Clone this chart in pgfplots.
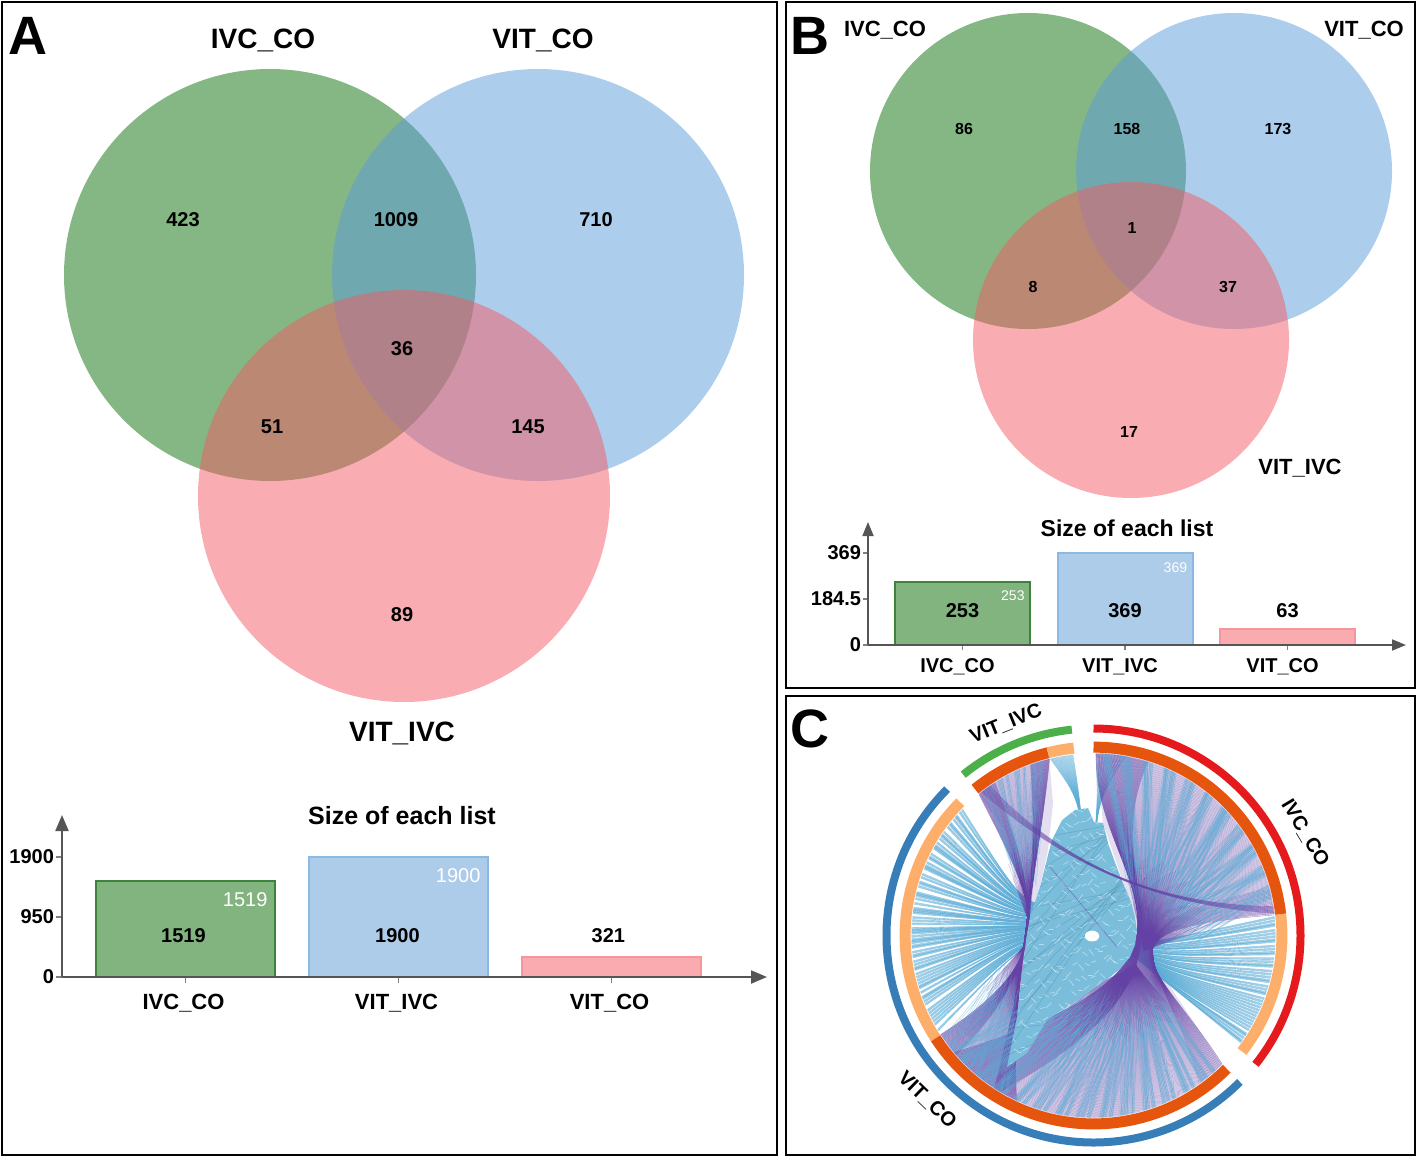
\documentclass[border=0pt]{standalone}
\usepackage{pgfplots}
\pgfplotsset{compat=1.18}
\usepackage{fontspec}
\setmainfont{Liberation Sans}
\usetikzlibrary{arrows.meta}
\definecolor{vgreen}{RGB}{9,112,10}
\definecolor{vblue}{RGB}{92,156,219}
\definecolor{vpink}{RGB}{243,90,100}
\definecolor{bgreen}{RGB}{130,180,128}
\definecolor{bblue}{RGB}{173,204,233}
\definecolor{bpink}{RGB}{249,171,176}
\definecolor{lgreen}{RGB}{62,130,62}
\definecolor{lblue}{RGB}{140,185,228}
\definecolor{lpink}{RGB}{246,150,156}
\definecolor{axg}{RGB}{85,85,85}
\definecolor{rred}{RGB}{228,26,28}
\definecolor{rblue}{RGB}{55,126,184}
\definecolor{rgreen}{RGB}{77,175,74}
\definecolor{rdark}{RGB}{230,85,13}
\definecolor{rlight}{RGB}{253,174,107}
\definecolor{cblue}{RGB}{92,172,214}
\definecolor{cpur}{RGB}{100,66,165}
\definecolor{cfill}{RGB}{122,190,220}
\definecolor{clav}{RGB}{228,223,240}
\newcommand\fs[1]{\fontsize{#1}{#1}\selectfont\bfseries}
\newcommand\fn[1]{\fontsize{#1}{#1}\selectfont}
\tikzset{blu/.style={draw=cblue,line width=.3pt,draw opacity=.6},
 wis/.style={draw=cblue,line width=.3pt,draw opacity=.42},
 pur/.style={draw=cpur,line width=.16pt,draw opacity=.42},
 pud/.style={draw=cpur,line width=.24pt,draw opacity=.5},
 pun/.style={draw=cpur,line width=.3pt,draw opacity=.28}}
\newcommand\setrim[3]{\pgfmathsetmacro#1{1093.5+182*cos(#3)}\pgfmathsetmacro#2{935.5-182*sin(#3)}}
\newcommand\mainchord[3]{%
 \pgfmathsetmacro\tA{6.5+#1*82.5}\pgfmathsetmacro\tB{-45-#2*95}%
 \setrim\aX\aY\tA\setrim\bX\bY\tB%
 \pgfmathsetmacro\cax{1080+10*#1}\pgfmathsetmacro\cay{930-50*#1}%
 \pgfmathsetmacro\cbx{1160+100*#2}\pgfmathsetmacro\cby{965-5*#2}%
 \draw[#3] (axis cs:\aX,\aY) .. controls (axis cs:\cax,\cay) and (axis cs:\cbx,\cby) .. (axis cs:\bX,\bY);}
\newcommand\leftchord[3]{%
 \pgfmathsetmacro\tA{129-#1*25}\pgfmathsetmacro\tB{-147+#2*32}%
 \setrim\aX\aY\tA\setrim\bX\bY\tB%
 \pgfmathsetmacro\cax{1035+5*#1}\pgfmathsetmacro\cay{905-45*#1}%
 \pgfmathsetmacro\cbx{1067-57*#2}\pgfmathsetmacro\cby{952+28*#2}%
 \draw[#3] (axis cs:\aX,\aY) .. controls (axis cs:\cax,\cay) and (axis cs:\cbx,\cby) .. (axis cs:\bX,\bY);}
% a streak from the rim part of the way towards a pinch
\newcommand\wisp[3]{%
 \setrim\aX\aY{#1}%
 \pgfmathsetmacro\jj{mod(abs(#1)*37.3,1)*44-22}%
 \pgfmathsetmacro\ff{.5+mod(abs(#1)*53.7,1)*.3}%
 \pgfmathsetmacro\eX{\aX+\ff*(#2+.5*\jj-\aX)}\pgfmathsetmacro\eY{\aY+\ff*(#3+\jj-\aY)}%
 \draw[wis] (axis cs:\aX,\aY) -- (axis cs:\eX,\eY);}
% a short purple stroke out of a pinch
\newcommand\pinch[3]{%
 \setrim\aX\aY{#1}%
 \pgfmathsetmacro\ff{.22+mod(abs(#1)*17.3,1)*.3}%
 \pgfmathsetmacro\eX{#2+\ff*(\aX-#2)}\pgfmathsetmacro\eY{#3+\ff*(\aY-#3)}%
 \draw[pun] (axis cs:#2,#3) -- (axis cs:\eX,\eY);}
\newcommand\ring[5]{\draw[#1,line width=#2] (axis cs:1093.5,935.5) ++(#4:#3) arc[start angle=#4,end angle=#5,radius=#3];}
\newcommand\centralpoly{(axis cs:1052,840) -- (axis cs:1062,820) -- (axis cs:1075,810) -- (axis cs:1088,808) -- (axis cs:1094,822) -- (axis cs:1103,823) -- (axis cs:1108,843) -- (axis cs:1116,865) -- (axis cs:1123,883) -- (axis cs:1131,902) -- (axis cs:1135,917) -- (axis cs:1137,930) -- (axis cs:1135,945) -- (axis cs:1130,957) -- (axis cs:1120,969) -- (axis cs:1110,977) -- (axis cs:1093,989) -- (axis cs:1077,1000) -- (axis cs:1047,1020) -- (axis cs:1027,1053) -- (axis cs:1007,1067) -- (axis cs:1012,1042) -- (axis cs:1017,1017) -- (axis cs:1023,967) -- (axis cs:1026,940) -- (axis cs:1030,917) -- (axis cs:1040,887) -- (axis cs:1048,855) -- cycle}
\pgfplotsset{full/.style={at={(0,0)},anchor=south west,scale only axis,width=709pt,height=579pt,
 xmin=0,xmax=1418,ymin=0,ymax=1158,y dir=reverse,hide axis,clip=false}}
\begin{document}
\begin{tikzpicture}
% Venn discs
\begin{axis}[full]
\addplot[only marks,mark=*,mark size=103pt,mark options={draw opacity=0,fill=vgreen,fill opacity=.5}] coordinates {(270,275)};
\addplot[only marks,mark=*,mark size=103pt,mark options={draw opacity=0,fill=vblue,fill opacity=.5}] coordinates {(538,275)};
\addplot[only marks,mark=*,mark size=103pt,mark options={draw opacity=0,fill=vpink,fill opacity=.5}] coordinates {(404,496)};
\addplot[only marks,mark=*,mark size=79pt,mark options={draw opacity=0,fill=vgreen,fill opacity=.5}] coordinates {(1028,171)};
\addplot[only marks,mark=*,mark size=79pt,mark options={draw opacity=0,fill=vblue,fill opacity=.5}] coordinates {(1234,171)};
\addplot[only marks,mark=*,mark size=79pt,mark options={draw opacity=0,fill=vpink,fill opacity=.5}] coordinates {(1131,340)};
\end{axis}
\begin{axis}[full]
% panels
\draw[black,line width=1.3pt] (axis cs:2,2) rectangle (axis cs:777,1155);
\draw[black,line width=1.3pt] (axis cs:786,2) rectangle (axis cs:1415,688);
\draw[black,line width=1.3pt] (axis cs:786,696) rectangle (axis cs:1415,1155);
% texts
\node[font=\fs{27}] at (axis cs:28,36) {A};
\node[font=\fs{27}] at (axis cs:810,36) {B};
\node[font=\fs{27}] at (axis cs:810,729) {C};
\node[font=\fs{14}] at (axis cs:263,40) {IVC\_CO};
\node[font=\fs{14}] at (axis cs:543,40) {VIT\_CO};
\node[font=\fs{14}] at (axis cs:402,733) {VIT\_IVC};
\node[font=\fs{10}] at (axis cs:183,220) {423};
\node[font=\fs{10}] at (axis cs:396,220) {1009};
\node[font=\fs{10}] at (axis cs:596,220) {710};
\node[font=\fs{10}] at (axis cs:402,349) {36};
\node[font=\fs{10}] at (axis cs:272,427) {51};
\node[font=\fs{10}] at (axis cs:528,427) {145};
\node[font=\fs{10}] at (axis cs:402,615) {89};
\node[font=\fs{11}] at (axis cs:885,30) {IVC\_CO};
\node[font=\fs{11}] at (axis cs:1364,30) {VIT\_CO};
\node[font=\fs{11}] at (axis cs:1300,468) {VIT\_IVC};
\node[font=\fs{8}] at (axis cs:964,129) {86};
\node[font=\fs{8}] at (axis cs:1127,129) {158};
\node[font=\fs{8}] at (axis cs:1278,129) {173};
\node[font=\fs{8}] at (axis cs:1132,228) {1};
\node[font=\fs{8}] at (axis cs:1033,287) {8};
\node[font=\fs{8}] at (axis cs:1228,287) {37};
\node[font=\fs{8}] at (axis cs:1129,432) {17};
\node[font=\fs{12.5}] at (axis cs:402,816) {Size of each list};
\node[font=\fs{11.5}] at (axis cs:1127,528) {Size of each list};
% chord diagram
\pgfplotsextra{%
 % pale bases of the three fans
 \fill[clav] (axis cs:1096,753) -- (axis cs:1103,823) -- (axis cs:1135,917) -- (axis cs:1141,950) -- (axis cs:1190,935) -- (axis cs:1246,916) -- (axis cs:1275,914) arc[start angle=6.5,end angle=89,radius=91.5pt] -- cycle;
 \fill[clav] (axis cs:1222,1064) -- (axis cs:1179,1000) -- (axis cs:1150,955) -- (axis cs:1110,977) -- (axis cs:1047,1020) -- (axis cs:1030,960) -- (axis cs:1017,967) -- (axis cs:993,1000) -- (axis cs:939,1035) arc[start angle=-147,end angle=-45,radius=91.5pt] -- cycle;
 \fill[clav] (axis cs:978,793) -- (axis cs:1007,833) -- (axis cs:1028,917) -- (axis cs:1037,900) -- (axis cs:1048,850) -- (axis cs:1053,803) -- (axis cs:1049,757) arc[start angle=104,end angle=129,radius=91.5pt] -- cycle;
 % left light arc fan
 \foreach \a in {136,137,138.5,139,140,141.5,142,143,145,146,146.5,147.5,149,150,150.5,151,153,154,154.5,156,157,157.5,158,160,161,162.5,163,164,166,166.5,167,168,169.5,171,171.5,172,172.5,174,175,176,177.5,178,178.5,179,180,181,181.5,182,183,183.5,185,186,186.5,188,189,190,190.5,192,193,194,195,196,196.5,198,199.5,200,201,202,204,205,206,207,208,209,211}{%
  \foreach \e in {0,.2,.4,.6}{%
  \pgfmathsetmacro\aa{\a+\e}\setrim\aX\aY\aa
  \pgfmathsetmacro\pY{925+(\aY-925)*.15}\pgfmathsetmacro\qY{925+(\aY-925)*.2}%
  \draw[blu] (axis cs:\aX,\aY) .. controls (axis cs:1025,\pY) .. (axis cs:1060,\qY);}}%
 % right light arc fan
 \foreach \a in {6,5,4,3.5,2,1,0,-1,-1.5,-3,-4,-5,-5.5,-7,-8,-9,-9.5,-11,-12,-13,-14,-14.5,-16,-17,-18,-18.5,-20,-21,-22,-23,-24,-25,-26,-27,-28,-29,-30,-31,-32.5,-33,-34,-35,-35.5}{%
  \foreach \e in {0,.2,.4,.6}{%
  \pgfmathsetmacro\aa{\a-\e}\setrim\aX\aY\aa
  \pgfmathsetmacro\pX{1160+18*(\aY-914)/129}\pgfmathsetmacro\pY{940+52*(\aY-914)/129}%
  \draw[blu] (axis cs:\aX,\aY) .. controls (axis cs:\pX,\pY) .. (axis cs:1120,945);}}%
 % top fans
 \foreach \a in {96.5,97,97.5,98,98.5,99,99.5,100,100.5,101,101.5,102,102.5,103,103.5}{%
  \foreach \e in {0,.25}{%
  \pgfmathsetmacro\aa{\a+\e}\setrim\aX\aY\aa
  \draw[blu] (axis cs:\aX,\aY) .. controls (axis cs:1080,800) .. (axis cs:1085,870);}}%
 \foreach \a in {89,88,87,86,85,84,83,82,81,80}{%
  \foreach \e in {0,.3}{%
  \pgfmathsetmacro\aa{\a+\e}\setrim\aX\aY\aa
  \draw[blu] (axis cs:\aX,\aY) .. controls (axis cs:1098,800) .. (axis cs:1092,870);}}%
 % purple bundles
 \foreach \i in {0,...,250}{\pgfmathsetmacro\v{\i/250}\mainchord{\v}{\v}{pur}}%
 \foreach \i in {0,...,90}{\pgfmathsetmacro\v{\i/90}\leftchord{\v}{\v}{pur}}%
 % denser lines along the edges of the central body
 \foreach \i in {0,...,70}{\pgfmathsetmacro\v{.8+\i/350}\mainchord{\v}{\v}{pud}}%
 \foreach \i in {0,...,20}{\pgfmathsetmacro\v{\i/200}\mainchord{\v}{\v}{pur}}%
 \foreach \i in {0,...,40}{\pgfmathsetmacro\v{.75+\i/160}\leftchord{\v}{\v}{pud}}%
 \foreach \i in {0,...,30}{\pgfmathsetmacro\v{\i/120}\leftchord{\v}{\v}{pud}}%
 % blue streaks over the purple fans
 \foreach \a in {12,13.5,15,19,20,21.5,26,27,28.5,29,34,35,36.5,41,42.5,43,44,49,50.5,51,56,57,58.5,63,64,65.5,66,71,72.5,73,78,79,80.5,85,86}{%
  \foreach \e in {0,.17,.34,.51,.68,.85,1.02,1.19}{%
  \pgfmathsetmacro\aa{\a+\e}\wisp{\aa}{1143}{948}}}%
 \foreach \a in {-48,-51,-52.5,-56,-58,-59,-63,-65,-66.5,-70,-72,-73,-77,-79,-80.5,-84,-86,-87,-91,-93,-94.5,-98,-100,-101,-105,-107,-108.5,-112,-114,-115,-119,-121,-122.5,-126,-128,-129,-133,-135,-136.5,-140}{%
  \foreach \e in {0,.17,.34,.51,.68,.85,1.02,1.19}{%
  \pgfmathsetmacro\aa{\a-\e}\wisp{\aa}{1135}{965}}}%
 \foreach \a in {106,108,109,112,114,115,118,120,121,124,126}{%
  \foreach \e in {0,.2,.4,.6,.8}{%
  \pgfmathsetmacro\aa{\a+\e}\wisp{\aa}{1030}{915}}}%
 \foreach \a in {-146,-143,-142,-139,-137,-136,-133,-131,-130,-127,-125,-124,-121,-119}{%
  \foreach \e in {0,.2,.4,.6,.8}{%
  \pgfmathsetmacro\aa{\a+\e}\wisp{\aa}{1025}{950}}}%
 % deep purple close to the pinches
 \foreach \a in {9,10,...,88}{\pinch{\a}{1144}{950}\pgfmathsetmacro\aa{\a+.5}\pinch{\aa}{1144}{950}}%
 \foreach \a in {-46,-47,...,-140}{\pinch{\a}{1136}{966}\pgfmathsetmacro\aa{\a-.5}\pinch{\aa}{1136}{966}}%
 \foreach \a in {105,106,...,128}{\pinch{\a}{1029}{922}\pgfmathsetmacro\aa{\a+.5}\pinch{\aa}{1029}{922}}%
 \foreach \a in {-146,-145,...,-118}{\pinch{\a}{1025}{945}\pgfmathsetmacro\aa{\a+.5}\pinch{\aa}{1025}{945}}%
 % central blue body
 \fill[cfill] \centralpoly;
 \begin{scope}
 \clip \centralpoly;
 \foreach \y in {700,711,719,733,741,752,766,773,787,795,806,820,827,841,849,860,874,881,895,903,914,928,935,949,957,968,982,989,1003,1011,1022,1036,1043,1057}{%
  \pgfmathsetmacro\s{-70+mod(\y*13,17)*14}%
  \pgfmathsetmacro\ya{\y+95}\pgfmathsetmacro\yb{\y-\s+10}%
  \draw[cblue!75!black,line width=.25pt,draw opacity=.4] (axis cs:990,\ya) -- (axis cs:1150,\yb);}%
 \foreach \x in {1010,1019,...,1136}{%
  \foreach \y in {806,815,...,1070}{%
  \pgfmathsetmacro\ja{mod(\x*3.7+\y*1.3,9)}\pgfmathsetmacro\jb{mod(\x*1.9+\y*2.3,9)}%
  \pgfmathsetmacro\dd{mod(\x+\y*7,13)-6}%
  \pgfmathsetmacro\pa{\x+\ja}\pgfmathsetmacro\pb{\y+\jb}\pgfmathsetmacro\pc{\pa+5}\pgfmathsetmacro\pd{\pb+\dd}%
  \draw[white,line width=.35pt,draw opacity=.45] (axis cs:\pa,\pb) -- (axis cs:\pc,\pd);}}%
 \end{scope}%
 % thin band VIT_IVC -- IVC_CO
 \foreach \e in {0,1,2,3,4,5,6,7,8,9,10,11}{%
  \pgfmathsetmacro\ta{128-\e*.3}\pgfmathsetmacro\tb{7+\e*.2}%
  \setrim\aX\aY\ta\setrim\bX\bY\tb
  \draw[cpur,line width=.22pt,draw opacity=.5] (axis cs:\aX,\aY) .. controls (axis cs:1060,860) and (axis cs:1150,905) .. (axis cs:\bX,\bY);}%
 \draw[cpur,line width=.35pt,draw opacity=.5] (axis cs:1050,867) -- (axis cs:1117,947);
 \fill[white] (axis cs:1092,936) ellipse [x radius=3.6pt,y radius=2.7pt];
 % rings
 \ring{rred}{4pt}{103.5pt}{90}{-38.5}%
 \ring{rblue}{4pt}{103.5pt}{-45}{-225}%
 \ring{rgreen}{4pt}{103.5pt}{129}{96}%
 \ring{rdark}{5.5pt}{94.2pt}{90}{6.5}%
 \ring{rlight}{5.5pt}{94.2pt}{6.5}{-38}%
 \ring{rdark}{5.5pt}{94.2pt}{-45}{-147}%
 \ring{rlight}{5.5pt}{94.2pt}{-147}{-225}%
 \ring{rdark}{5.5pt}{94.2pt}{129}{104}%
 \ring{rlight}{5.5pt}{94.2pt}{104}{96}%
}
\node[font=\fs{10},rotate=22] at (axis cs:1006,724) {VIT\_IVC};
\node[font=\fs{10},rotate=-59] at (axis cs:1305,833) {IVC\_CO};
\node[font=\fs{10},rotate=-44] at (axis cs:927,1100) {VIT\_CO};
\end{axis}
% bar chart A
\begin{axis}[at={(31pt,90.5pt)},anchor=south west,scale only axis,width=352.5pt,height=81pt,
 xmin=-0.58,xmax=2.73,ymin=0,ymax=2565,clip=false,
 axis lines=left,axis on top,
 axis line style={draw=axg,line width=1.1pt,-{Triangle[length=8pt,width=6.5pt]}},
 tick style={draw=gray,line width=.7pt},major tick length=3pt,tick align=outside,
 xtick={0,1,2},xticklabels={IVC\_CO,VIT\_IVC,VIT\_CO},
 ytick={0,950,1900},yticklabels={0,950,1900},
 xticklabel style={font=\fs{11},text height=8pt,yshift=-1.5pt,xshift=-1pt},
 yticklabel style={font=\fs{10},xshift=2.5pt}]
\addplot[ybar,bar width=89.5pt,bar shift=0pt,draw=lgreen,fill=bgreen,line width=1pt] coordinates {(0,1519)};
\addplot[ybar,bar width=89.5pt,bar shift=0pt,draw=lblue,fill=bblue,line width=1pt] coordinates {(1,1900)};
\addplot[ybar,bar width=89.5pt,bar shift=0pt,draw=lpink,fill=bpink,line width=1pt] coordinates {(2,321)};
\node[font=\fs{10}] at (axis cs:-.01,649) {1519};
\node[font=\fs{10}] at (axis cs:.995,649) {1900};
\node[font=\fs{10}] at (axis cs:1.985,649) {321};
\node[font=\fn{10},white] at (axis cs:0.28,1220) {1519};
\node[font=\fn{10},white] at (axis cs:1.28,1600) {1900};
\end{axis}
% bar chart B
\begin{axis}[at={(434pt,256.5pt)},anchor=south west,scale only axis,width=269pt,height=61.5pt,
 xmin=-0.5815,xmax=2.729,ymin=0,ymax=493.3,clip=false,
 axis lines=left,axis on top,
 axis line style={draw=axg,line width=.9pt,-{Triangle[length=7pt,width=5.5pt]}},
 tick style={draw=gray,line width=.6pt},major tick length=2.5pt,tick align=outside,
 xtick={0,1,2},xticklabels={IVC\_CO,VIT\_IVC,VIT\_CO},
 ytick={0,184.5,369},yticklabels={0,184.5,369},
 xticklabel style={font=\fs{10},text height=7.5pt,yshift=0pt,xshift=-2.5pt},
 yticklabel style={font=\fs{10},xshift=2.5pt}]
\addplot[ybar,bar width=67.5pt,bar shift=0pt,draw=lgreen,fill=bgreen,line width=1pt] coordinates {(0,253)};
\addplot[ybar,bar width=67.5pt,bar shift=0pt,draw=lblue,fill=bblue,line width=1pt] coordinates {(1,369)};
\addplot[ybar,bar width=67.5pt,bar shift=0pt,draw=lpink,fill=bpink,line width=1pt] coordinates {(2,63)};
\node[font=\fs{10}] at (axis cs:0,136) {253};
\node[font=\fs{10}] at (axis cs:1,136) {369};
\node[font=\fs{10}] at (axis cs:2,136) {63};
\node[font=\fn{7},white] at (axis cs:0.31,196) {253};
\node[font=\fn{7},white] at (axis cs:1.31,309) {369};
\end{axis}
\pgfresetboundingbox
\path (0,0) rectangle (709pt,579pt);
\end{tikzpicture}
\end{document}
